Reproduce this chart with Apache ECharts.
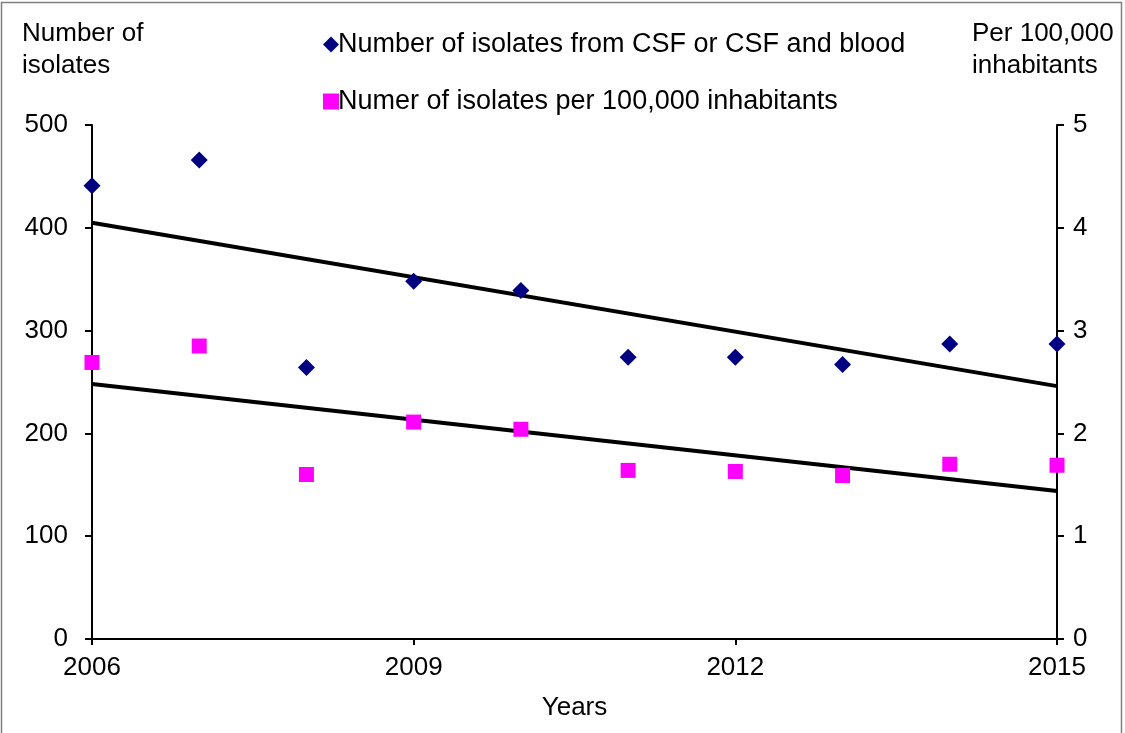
<!DOCTYPE html>
<html><head><meta charset="utf-8">
<script src="https://cdn.jsdelivr.net/npm/echarts@6/dist/echarts.min.js"></script>
<style>html,body{margin:0;padding:0;background:#fff}#c{width:1125px;height:733px}</style>
</head><body><div id="c"></div>
<script>
const years = [2006, 2007, 2008, 2009, 2010, 2011, 2012, 2013, 2014, 2015];
const isolates = [441, 466, 264, 348, 339, 274, 274, 267, 287, 287];
const perCapita = [2.69, 2.85, 1.60, 2.11, 2.04, 1.64, 1.63, 1.59, 1.70, 1.69];
const isolatesTrendYears = [2006, 2015];
const isolatesTrend = [405, 246];
const perCapitaTrend = [2.48, 1.44];
const xTicks = [2006, 2009, 2012, 2015];
const leftTicks = [0, 100, 200, 300, 400, 500];
const rightTicks = [0, 1, 2, 3, 4, 5];

const font = 'Liberation Sans, Arial, sans-serif';
const fs = 26;
const chart = echarts.init(document.getElementById('c'));
const axisLine = {show: true, lineStyle: {color: '#000', width: 2}};
chart.setOption({
  animation: false,
  grid: {left: 92, right: 68, top: 125, bottom: 94, containLabel: false},
  xAxis: {
    type: 'value', min: 2006, max: 2015, interval: 3,
    axisLine: axisLine,
    axisTick: {show: true, inside: false, length: 6, lineStyle: {color: '#000', width: 2}},
    splitLine: {show: false},
    axisLabel: {color: '#000', fontSize: fs, fontFamily: font, margin: 16, formatter: v => String(v)},
    name: 'Years', nameLocation: 'middle', nameGap: 56,
    nameTextStyle: {color: '#000', fontSize: fs, fontFamily: font}
  },
  yAxis: [{
    type: 'value', min: 0, max: 500, interval: 100, position: 'left',
    axisLine: axisLine,
    axisTick: {show: true, length: 7, lineStyle: {color: '#000', width: 2}},
    splitLine: {show: false},
    axisLabel: {color: '#000', fontSize: fs, fontFamily: font, margin: 24}
  }, {
    type: 'value', min: 0, max: 5, interval: 1, position: 'right',
    axisLine: axisLine,
    axisTick: {show: true, length: 7, lineStyle: {color: '#000', width: 2}},
    splitLine: {show: false},
    axisLabel: {color: '#000', fontSize: fs, fontFamily: font, margin: 16}
  }],
  legend: {
    orient: 'vertical', left: 318, top: 26, itemGap: 30, itemWidth: 16, itemHeight: 16,
    textStyle: {color: '#000', fontSize: 27, fontFamily: font, padding: [0, 0, 0, -6]},
    data: [
      {name: 'Number of isolates from CSF or CSF and blood', icon: 'diamond'},
      {name: 'Numer of isolates per 100,000 inhabitants', icon: 'rect'}
    ]
  },
  graphic: [
    {type: 'rect', shape: {x: 1.5, y: 2.5, width: 1120, height: 740}, style: {fill: 'none', stroke: '#808080', lineWidth: 1.5}, silent: true},
    {type: 'text', left: 22, top: 18, style: {text: 'Number of\nisolates', fill: '#000', font: fs + 'px ' + font, lineHeight: 32}},
    {type: 'text', left: 972, top: 18, style: {text: 'Per 100,000\ninhabitants', fill: '#000', font: fs + 'px ' + font, lineHeight: 32, align: 'left'}}
  ],
  series: [
    {
      name: 'Number of isolates from CSF or CSF and blood', type: 'scatter', yAxisIndex: 0,
      symbol: 'diamond', symbolSize: 17, itemStyle: {color: '#000080', opacity: 1},
      data: years.map((y, i) => [y, isolates[i]]), z: 3
    },
    {
      name: 'Numer of isolates per 100,000 inhabitants', type: 'scatter', yAxisIndex: 1,
      symbol: 'rect', symbolSize: 15, itemStyle: {color: '#FF00FF', opacity: 1},
      data: years.map((y, i) => [y, perCapita[i]]), z: 3
    },
    {
      name: 'trend1', type: 'line', yAxisIndex: 0, showSymbol: false, symbol: 'none',
      lineStyle: {color: '#000', width: 4}, data: isolatesTrendYears.map((y, i) => [y, isolatesTrend[i]]), z: 2
    },
    {
      name: 'trend2', type: 'line', yAxisIndex: 1, showSymbol: false, symbol: 'none',
      lineStyle: {color: '#000', width: 4}, data: isolatesTrendYears.map((y, i) => [y, perCapitaTrend[i]]), z: 2
    }
  ]
});
</script></body></html>
